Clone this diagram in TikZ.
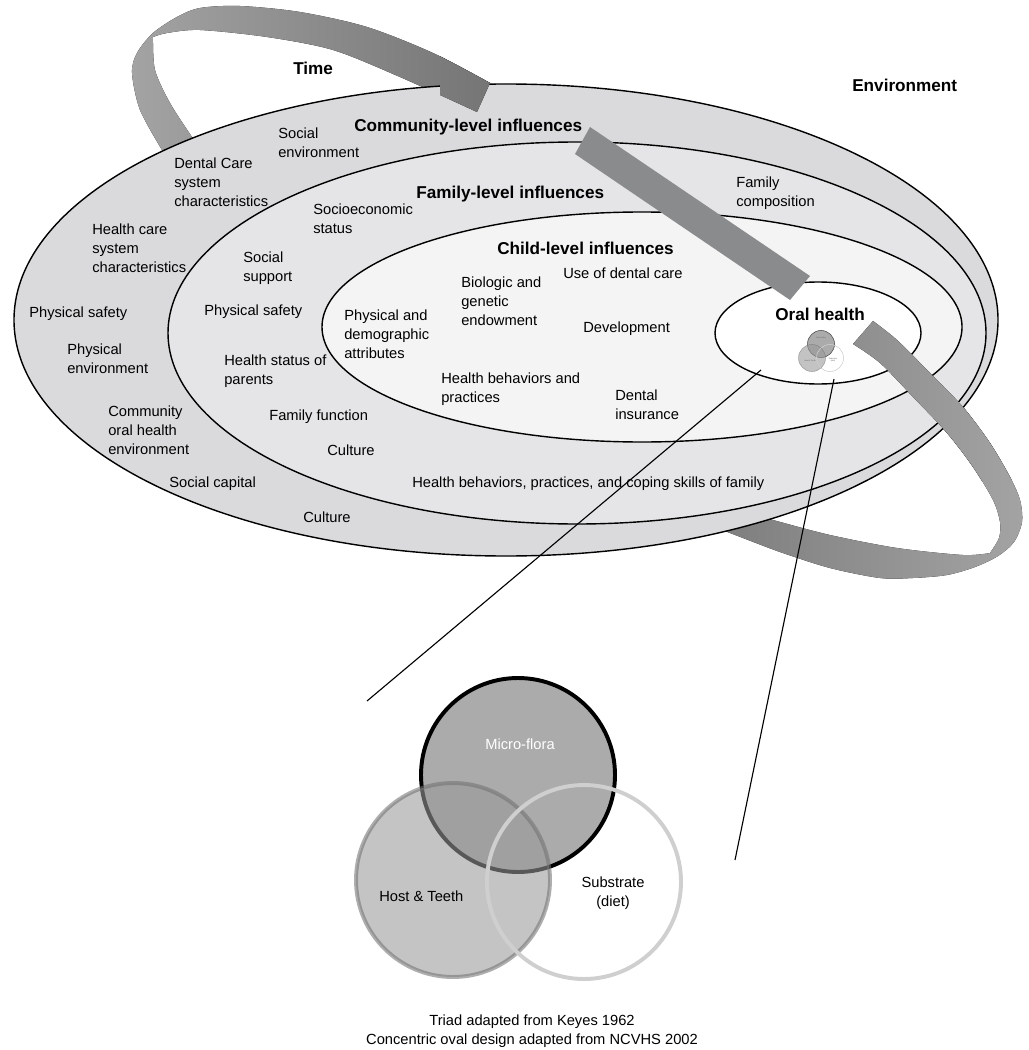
\documentclass[tikz,border=0pt]{standalone}
\usepackage{fontspec}
\setmainfont{Liberation Sans}
\definecolor{outerfill}{HTML}{DADADC}
\definecolor{familyfill}{HTML}{E5E5E7}
\definecolor{childfill}{HTML}{F4F4F4}
\definecolor{ribbon}{HTML}{8A8B8D}

% the time band, left loop and right loop
\newcommand{\timeleft}{(172,172) -- plot[smooth] coordinates {(162,150) (140,110) (132,73) (137,53) (153,33) (177,17) (200,8) (240,6) (300,12) (367,27) (433,53) (490,83)} -- (477,112) -- plot[smooth] coordinates {(477,112) (400,77) (333,50) (267,37) (200,30) (167,33) (153,37)} -- plot[smooth] coordinates {(153,37) (155,70) (170,103) (192,137)} -- (205,160) -- cycle}
\newcommand{\timeright}{(853,344) -- (873,321) -- plot[smooth] coordinates {(873,321) (897,340) (930,373) (963,407) (990,443) (1010,477) (1020,500) (1022,522) (1014,542) (998,556) (975,567) (947,575) (913,578) (880,578) (830,568) (780,552) (730,533) (690,518)} -- (720,505) -- plot[smooth] coordinates {(720,505) (773,520) (830,535) (897,548) (963,555) (990,553)} -- plot[smooth] coordinates {(990,553) (999,538) (1000,522) (993,500) (973,467) (947,433) (913,397) (880,363) (853,344)} -- cycle}

\begin{document}
\begin{tikzpicture}[x=0.025cm, y=-0.025cm,
	lbl/.style={font=\fontsize{10.45}{13.5}\selectfont, align=left, anchor=north west, inner sep=0pt},
	clbl/.style={font=\fontsize{10.45}{13.5}\selectfont, align=center, anchor=north, inner sep=0pt},
	head/.style={font=\fontsize{12.2}{14.5}\selectfont\bfseries, anchor=north west, inner sep=0pt},
	minitxt/.style={font=\fontsize{1.4}{1.7}\selectfont, align=center, text=black!60, inner sep=0pt},
	ring/.style={draw=black, line width=1pt},
	bandA/.style={left color=black!36, right color=black!54},
	bandC/.style={left color=black!52, right color=black!36},
	microcirc/.style={draw=black, line width=2.8pt, fill=black!33},
	hostcirc/.style={draw=black!55, line width=2.8pt, fill=black!40, fill opacity=0.58, draw opacity=0.58},
	substrcirc/.style={draw=black!19, line width=2.8pt},
	link/.style={line width=0.8pt}]
	\useasboundingbox (0,0) rectangle (1029,1050);
	% time band under the ovals
	\fill[bandA] \timeleft;
	\fill[bandC] \timeright;
	% ovals
	\draw[ring, fill=outerfill] (506,320) ellipse [x radius=492, y radius=236];
	\draw[ring, fill=familyfill] (577,333) ellipse [x radius=409, y radius=191];
	\draw[ring, fill=childfill] (642,327) ellipse [x radius=320, y radius=115];
	\draw[ring, fill=white] (818,333) ellipse [x radius=103, y radius=51];
	% time band over the ovals
	\begin{scope}
		\clip (440,50) rectangle (520,125);
		\fill[bandA] \timeleft;
	\end{scope}
	\fill[ribbon] (590,127) -- (810,276) -- (790,300) -- (575,154) -- cycle;
	\begin{scope}
		\clip (845,300) rectangle (1029,480);
		\fill[bandC] \timeright;
	\end{scope}
	% small triad in oral health
	\draw[microcirc, draw=black!70, line width=0.4pt] (821,344) circle [radius=13.5];
	\draw[hostcirc, line width=0.4pt] (812,358) circle [radius=13.5];
	\draw[substrcirc, line width=0.4pt] (830,358) circle [radius=13.5];
	\node[minitxt] (microsm) at (821,338) {Micro-flora};
	\node[minitxt] (hostsm) at (810,361) {Host \& Teeth};
	\node[minitxt] (substrsm) at (833,360) {Substrate\\(diet)};
	% headings
	\node[head] (time) at (293,62) {Time};
	\node[head] (env) at (852,79) {Environment};
	\node[head] (comm) at (354,119) {Community-level influences};
	\node[head] (fam) at (416,186) {Family-level influences};
	\node[head] (child) at (497,242) {Child-level influences};
	\node[head] (oral) at (775,308) {Oral health};
	% community level
	\node[lbl] (socenv) at (278,128) {Social\\environment};
	\node[lbl] (dentsys) at (174,158) {Dental Care\\system\\characteristics};
	\node[lbl] (hcsys) at (92,224) {Health care\\system\\characteristics};
	\node[lbl] (safecom) at (29,307) {Physical safety};
	\node[lbl] (physenv) at (67,344) {Physical\\environment};
	\node[lbl] (comoral) at (108,406) {Community\\oral health\\environment};
	\node[lbl] (soccap) at (169,477) {Social capital};
	\node[lbl] (cultcom) at (303,512) {Culture};
	% family level
	\node[lbl] (socecon) at (313,204) {Socioeconomic\\status};
	\node[lbl] (famcomp) at (736,177) {Family\\composition};
	\node[lbl] (socsup) at (243,252) {Social\\support};
	\node[lbl] (safefam) at (204,305) {Physical safety};
	\node[lbl] (parents) at (224,355) {Health status of\\parents};
	\node[lbl] (famfunc) at (269,410) {Family function};
	\node[lbl] (cultfam) at (327,445) {Culture};
	\node[lbl] (coping) at (412,477) {Health behaviors, practices, and coping skills of family};
	% child level
	\node[lbl] (physdemo) at (344,310) {Physical and\\demographic\\attributes};
	\node[lbl] (biogen) at (461,277) {Biologic and\\genetic\\endowment};
	\node[lbl] (usecare) at (563,268) {Use of dental care};
	\node[lbl] (develop) at (583,322) {Development};
	\node[lbl] (practices) at (441,373) {Health behaviors and\\practices};
	\node[lbl] (insur) at (615,390) {Dental\\insurance};
	% triad
	\draw[microcirc] (518,775) circle [radius=97];
	\draw[hostcirc] (453,880) circle [radius=97];
	\draw[substrcirc] (584,882) circle [radius=97];
	\node[clbl, text=white] (micro) at (520,739) {Micro-flora};
	\node[lbl] (host) at (379,891) {Host \& Teeth};
	\node[clbl] (substr) at (613,877) {Substrate\\(diet)};
	\node[clbl] (credit) at (532,1015) {Triad adapted from Keyes 1962\\Concentric oval design adapted from NCVHS 2002};
	% zoom lines
	\coordinate (oralL) at (761,370);
	\coordinate (triadL) at (367,701);
	\coordinate (oralR) at (834,379);
	\coordinate (triadR) at (735,860);
	\draw[link] (oralL) -- (triadL);
	\draw[link] (oralR) -- (triadR);
\end{tikzpicture}
\end{document}
